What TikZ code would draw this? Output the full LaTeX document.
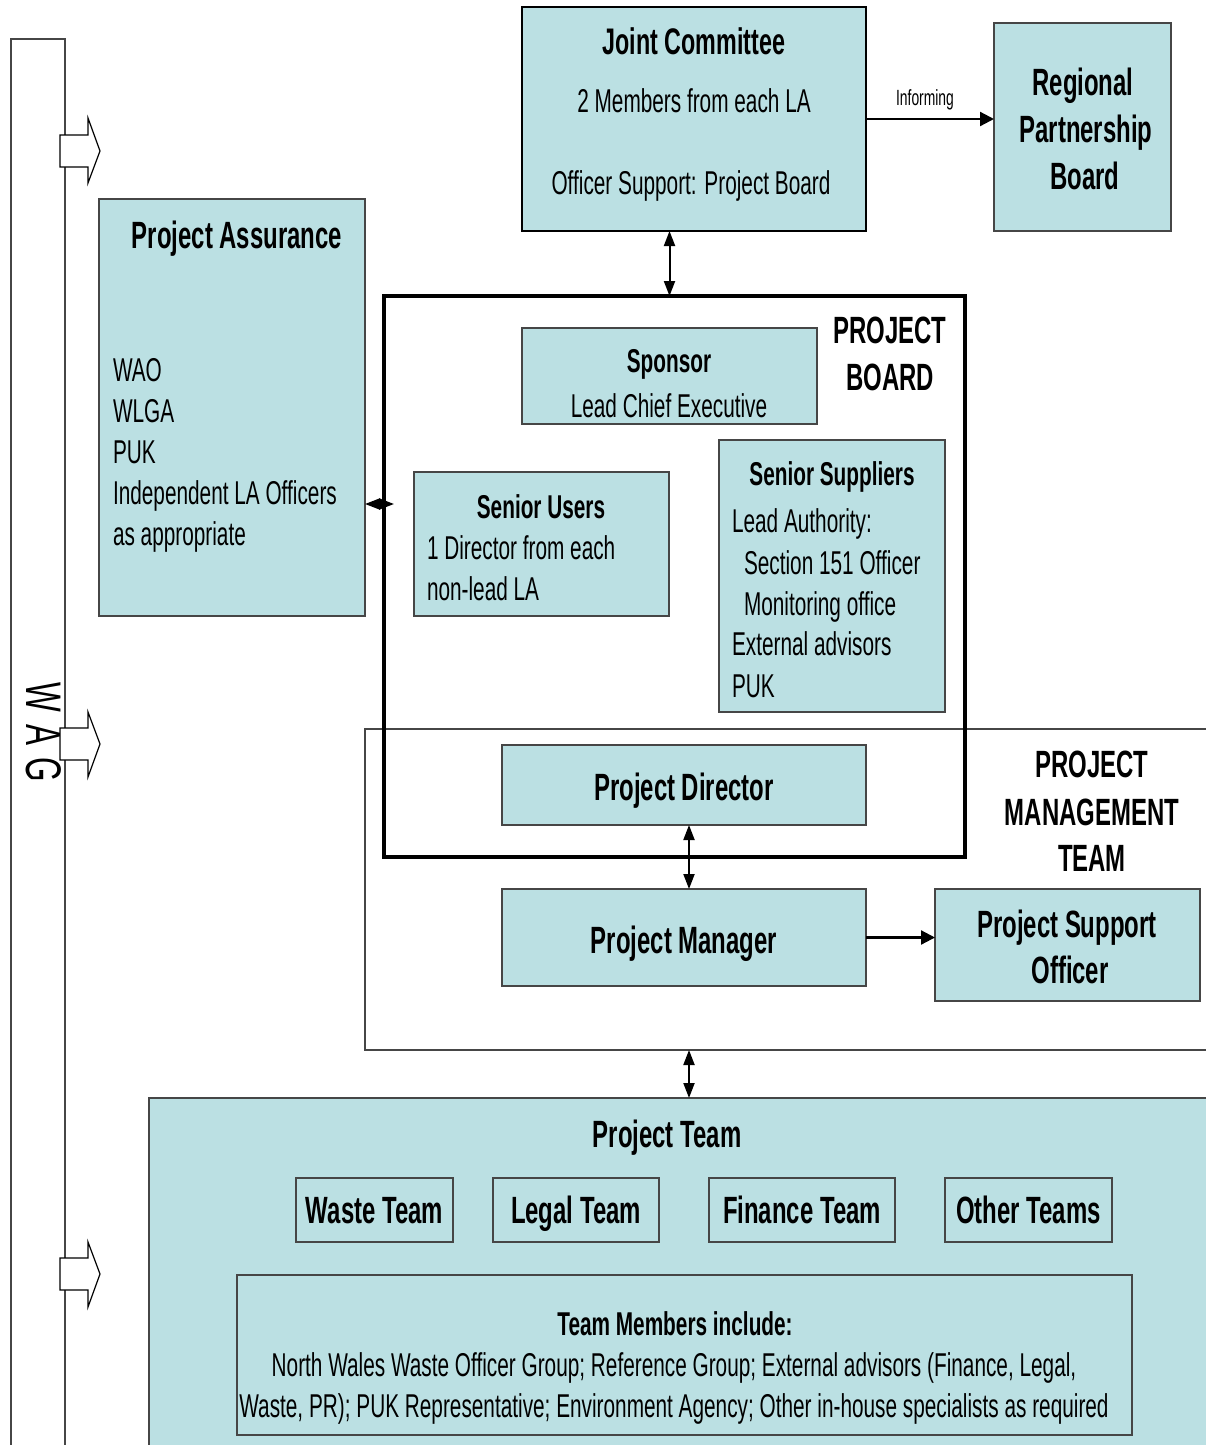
\documentclass[tikz,border=0pt]{standalone}
\usepackage{fontspec}
\setmainfont[FakeStretch=0.63]{Liberation Sans}
\usetikzlibrary{arrows.meta}
\definecolor{boxblue}{RGB}{187,224,227}
\definecolor{bordergray}{RGB}{70,70,70}
\tikzset{
  box/.style={draw=bordergray, line width=1.3pt, fill=boxblue, inner sep=0pt, outer sep=0pt, anchor=north west},
  frame/.style={draw=bordergray, line width=1.2pt, inner sep=0pt, outer sep=0pt, anchor=north west},
  txt/.style={inner sep=0pt, outer sep=0pt, anchor=base, font=\fontsize{33}{40}\selectfont},
  txtl/.style={txt, anchor=base west},
  hd/.style={inner sep=0pt, outer sep=0pt, anchor=base, font=\fontsize{38}{46}\selectfont\bfseries},
  hds/.style={inner sep=0pt, outer sep=0pt, anchor=base, font=\fontsize{33}{40}\selectfont\bfseries},
  arr/.style={line width=2.2pt, -{Triangle[length=14pt,width=14pt]}},
  darr/.style={line width=2pt, {Triangle[length=15pt,width=11pt]}-{Triangle[length=15pt,width=11pt]}},
  blockarrow/.style={draw=black, line width=1.2pt, fill=white},
}
\begin{document}
\begin{tikzpicture}[x=1pt,y=-1pt]
\clip (0,0) rectangle (1206,1445);
\fill[white] (0,0) rectangle (1206,1445);

% WAG bar
\draw[bordergray, line width=1.6pt] (11,1460) -- (11,39) -- (65,39) -- (65,1460);
\node[rotate=-90, inner sep=0pt, font=\fontsize{50}{60}\selectfont] (wag) at (44,732) {W\hspace{12pt}A\hspace{12pt}G};
\draw[blockarrow] (60,135) -- (88,135) -- (88,118) -- (100,151) -- (88,183) -- (88,167) -- (60,167) -- cycle;
\draw[blockarrow] (60,728) -- (88,728) -- (88,712) -- (100,744) -- (88,777) -- (88,760) -- (60,760) -- cycle;
\draw[blockarrow] (60,1258) -- (88,1258) -- (88,1242) -- (100,1274) -- (88,1307) -- (88,1290) -- (60,1290) -- cycle;

% Project management team frame
\node[frame, minimum width=860pt, minimum height=321pt] (pmt) at (365,729) {};
\node[hd] (pmt1) at (1092,777) {PROJECT};
\node[hd] (pmt2) at (1092,825) {MANAGEMENT};
\node[hd] (pmt3) at (1092,871) {TEAM};

% Project board frame
\node[draw=black, line width=3.5pt, inner sep=0pt, outer sep=0pt, anchor=north west, minimum width=581pt, minimum height=561pt] (pb) at (384,296) {};
\node[hd] (pb1) at (890,343) {PROJECT};
\node[hd] (pb2) at (890,390) {BOARD};

% Joint committee
\node[box, draw=black, line width=2pt, minimum width=344pt, minimum height=224pt] (jc) at (522,7) {};
\node[hd, font=\fontsize{37}{44}\selectfont\bfseries] (jc1) at (694,55) {Joint Committee};
\node[txt] (jc2) at (694,112) {2 Members from each LA};
\node[txt] (jc3) at (691,194) {Officer Support: Project Board};

% Regional partnership board
\node[box, minimum width=177pt, minimum height=208pt] (rpb) at (994,23) {};
\node[hd] (rpb1) at (1083,95) {Regional};
\node[hd] (rpb2) at (1086,142) {Partnership};
\node[hd] (rpb3) at (1085,189) {Board};

% Project assurance
\node[box, minimum width=266pt, minimum height=417pt] (pa) at (99,199) {};
\node[hd] (pa0) at (237,248) {Project Assurance};
\node[txtl] (pa1) at (113,381) {WAO};
\node[txtl] (pa2) at (113,422) {WLGA};
\node[txtl] (pa3) at (113,463) {PUK};
\node[txtl] (pa4) at (113,504) {Independent LA Officers};
\node[txtl] (pa5) at (113,545) {as appropriate};

% Sponsor
\node[box, minimum width=295pt, minimum height=96pt] (sp) at (522,328) {};
\node[hds] (sp1) at (669,372) {Sponsor};
\node[txt] (sp2) at (669,417) {Lead Chief Executive};

% Senior users
\node[box, minimum width=255pt, minimum height=144pt] (su) at (414,472) {};
\node[hds] (su0) at (541,518) {Senior Users};
\node[txtl] (su1) at (427,559) {1 Director from each};
\node[txtl] (su2) at (427,600) {non-lead LA};

% Senior suppliers
\node[box, minimum width=226pt, minimum height=272pt] (ss) at (719,440) {};
\node[hds] (ss0) at (832,485) {Senior Suppliers};
\node[txtl] (ss1) at (732,532) {Lead Authority:};
\node[txtl] (ss2) at (744,574) {Section 151 Officer};
\node[txtl] (ss3) at (744,615) {Monitoring office};
\node[txtl] (ss4) at (732,655) {External advisors};
\node[txtl] (ss5) at (732,697) {PUK};

% Project director / manager / support
\node[box, minimum width=364pt, minimum height=80pt] (pd) at (502,745) {};
\node[hd] (pd1) at (684,800) {Project Director};
\node[box, minimum width=364pt, minimum height=97pt] (pm) at (502,889) {};
\node[hd] (pm1) at (684,953) {Project Manager};
\node[box, minimum width=265pt, minimum height=112pt] (pso) at (935,889) {};
\node[hd] (pso1) at (1067,937) {Project Support};
\node[hd] (pso2) at (1070,983) {Officer};

% Project team
\node[box, minimum width=1080pt, minimum height=400pt] (pt) at (149,1098) {};
\node[hd] (pt0) at (667,1147) {Project Team};
\node[box, minimum width=157pt, minimum height=64pt] (wt) at (296,1178) {};
\node[hd] at (wt.center) [yshift=-13pt] (wt1) {Waste Team};
\node[box, minimum width=166pt, minimum height=64pt] (lt) at (493,1178) {};
\node[hd] at (lt.center) [yshift=-13pt] (lt1) {Legal Team};
\node[box, minimum width=186pt, minimum height=64pt] (ft) at (709,1178) {};
\node[hd] at (ft.center) [yshift=-13pt] (ft1) {Finance Team};
\node[box, minimum width=167pt, minimum height=64pt] (ot) at (945,1178) {};
\node[hd] at (ot.center) [yshift=-13pt] (ot1) {Other Teams};
\node[box, minimum width=895pt, minimum height=160pt] (tm) at (237,1275) {};
\node[hds] (tm0) at (675,1335) {Team Members include:};
\node[txt] (tm1) at (674,1376) {North Wales Waste Officer Group; Reference Group; External advisors (Finance, Legal,};
\node[txt] (tm2) at (674,1417) {Waste, PR); PUK Representative; Environment Agency; Other in-house specialists as required};

% Connectors
\draw[arr] (jc.east) -- (jc.east -| rpb.west);
\node[inner sep=0pt, anchor=base, font=\fontsize{22}{26}\selectfont] (inf) at (925,105) {Informing};
\draw[darr] (sp.north |- jc.south) -- (sp.north |- pb.north);
\coordinate (pbin) at (394,504);
\draw[darr] (pa.east |- pbin) -- (pbin);
\draw[darr] ([xshift=5pt]pd.south) -- ([xshift=5pt]pm.north);
\draw[arr] (pm.east) -- (pm.east -| pso.west);
\draw[darr] ([xshift=5pt]pm.south |- pmt.south) -- ([xshift=5pt]pm.south |- pt.north);
\end{tikzpicture}
\end{document}
